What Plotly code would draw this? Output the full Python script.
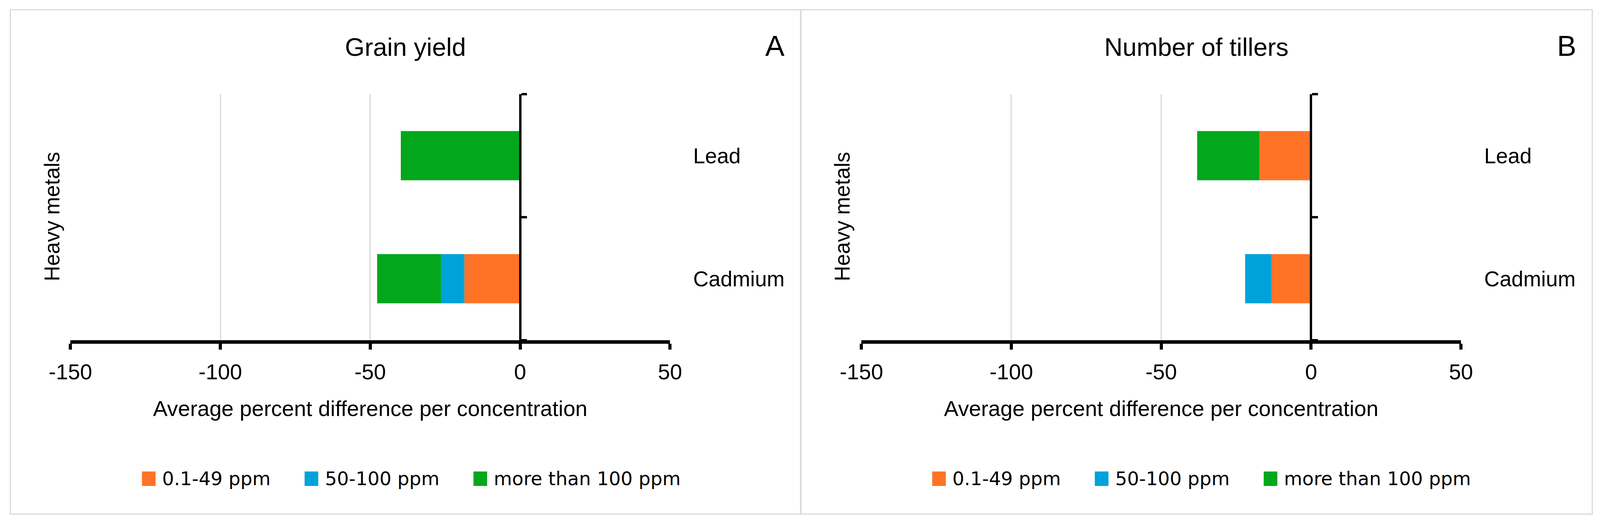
import plotly.graph_objects as go

# ---------------- data ----------------
categories = ["Cadmium", "Lead"]
series_names = ["0.1-49 ppm", "50-100 ppm", "more than 100 ppm"]
series_colors = ["#FF7327", "#00A2DA", "#03A71B"]

grain_low = [-18.6, None]
grain_mid = [-7.8, None]
grain_high = [-21.3, -39.8]

tillers_low = [-13.2, -17.2]
tillers_mid = [-8.8, None]
tillers_high = [None, -20.8]

x_tick_vals = [-150, -100, -50, 0, 50]
x_tick_text = ["-150", "-100", "-50", "0", "50"]
x_range = [-150, 50]
panel_titles = ["Grain yield", "Number of tillers"]
panel_letters = ["A", "B"]
x_title = "Average percent difference per concentration"
y_title = "Heavy metals"

panels_data = [
    [grain_low, grain_mid, grain_high],
    [tillers_low, tillers_mid, tillers_high],
]

# ---------------- layout geometry ----------------
# geometry measured in reference pixels; figure fills the page width (autosize)
REF_W, REF_H = 4339, 1344
VIEW_W = 4099            # observed page width in css px
KX = VIEW_W / REF_W      # horizontal css px per reference px
KY = 1.0                 # vertical css px per reference px
BODY = 8                 # default page body margin
FIG_W = VIEW_W - 2 * BODY
FIG_H = REF_H - 2 * BODY - 2
KF = 0.96                # font scale


def fx(px):
    return (px * KX - BODY) / FIG_W


def fy(py):
    return 1 - (py * KY - BODY) / FIG_H


panel_box = [(28, 2172), (2171, 4318)]
plot_x = [(191, 1817), (2336, 3962)]
plot_y = (241, 871)
box_y = (25, 1316)

AX_FONT = "Liberation Sans, Arial, sans-serif"
LEG_FONT = "DejaVu Sans, sans-serif"

fig = go.Figure()
shapes = []
annotations = []
layout = dict(
    height=FIG_H,
    autosize=True,
    margin=dict(l=0, r=0, t=0, b=0, pad=0, autoexpand=False),
    paper_bgcolor="white",
    plot_bgcolor="white",
    barmode="relative",
    bargap=0.6,
    showlegend=False,
)

for i in range(2):
    sfx = "" if i == 0 else str(i + 1)
    xa, ya = "x" + sfx, "y" + sfx
    for s in range(3):
        fig.add_trace(
            go.Bar(
                x=panels_data[i][s],
                y=categories,
                orientation="h",
                name=series_names[s],
                marker=dict(color=series_colors[s], line=dict(width=0)),
                xaxis=xa,
                yaxis=ya,
                showlegend=False,
                hoverinfo="x+y+name",
            )
        )

    d0, d1 = fx(plot_x[i][0]), fx(plot_x[i][1])
    zero_pos = d0 + (0 - x_range[0]) / (x_range[1] - x_range[0]) * (d1 - d0)

    layout["xaxis" + sfx] = dict(
        domain=[d0, d1],
        anchor=ya,
        range=x_range,
        tickvals=x_tick_vals,
        ticktext=x_tick_text,
        automargin=False,
        showgrid=True,
        gridcolor="#D9D9D9",
        gridwidth=3 * KX,
        zeroline=False,
        showline=True,
        linecolor="black",
        linewidth=9 * KY,
        ticks="outside",
        ticklen=15 * KY,
        tickwidth=8 * KX,
        tickcolor="black",
        ticklabelstandoff=9,
        tickfont=dict(family=AX_FONT, size=58 * KF, color="black"),
        title=dict(text=x_title, font=dict(family=AX_FONT, size=58 * KF, color="black"), standoff=48),
        fixedrange=True,
    )
    layout["yaxis" + sfx] = dict(
        domain=[fy(plot_y[1]), fy(plot_y[0])],
        anchor="free",
        position=zero_pos,
        side="right",
        type="category",
        categoryorder="array",
        categoryarray=categories,
        automargin=False,
        showline=True,
        linecolor="black",
        linewidth=6.5 * KX,
        ticks="outside",
        tickson="boundaries",
        ticklen=15 * KX,
        tickwidth=6 * KY,
        tickcolor="black",
        showgrid=False,
        zeroline=False,
        ticklabelstandoff=429,
        tickfont=dict(family=AX_FONT, size=57 * KF, color="black"),
        fixedrange=True,
    )

    # panel border
    shapes.append(
        dict(
            type="rect",
            xref="paper",
            yref="paper",
            x0=fx(panel_box[i][0]),
            x1=fx(panel_box[i][1]),
            y0=fy(box_y[1]),
            y1=fy(box_y[0]),
            line=dict(color="#D9D9D9", width=3),
            fillcolor="rgba(0,0,0,0)",
            layer="below",
        )
    )
    pc = (panel_box[i][0] + panel_box[i][1]) / 2
    # title
    annotations.append(
        dict(
            text=panel_titles[i],
            xref="paper",
            yref="paper",
            x=fx(pc),
            y=fy(120),
            xanchor="center",
            yanchor="middle",
            showarrow=False,
            font=dict(family=AX_FONT, size=67.5 * KF, color="black"),
        )
    )
    # panel letter
    annotations.append(
        dict(
            text=panel_letters[i],
            xref="paper",
            yref="paper",
            x=fx(panel_box[i][1] - 70),
            y=fy(117),
            xanchor="center",
            yanchor="middle",
            showarrow=False,
            font=dict(family=AX_FONT, size=77 * KF, color="black"),
        )
    )
    # y axis title
    annotations.append(
        dict(
            text=y_title,
            xref="paper",
            yref="paper",
            x=fx(panel_box[i][0] + 113),
            y=fy(555),
            xanchor="center",
            yanchor="middle",
            textangle=-90,
            showarrow=False,
            font=dict(family=AX_FONT, size=57 * KF, color="black"),
        )
    )
    # legend (square swatch + label per series)
    leg_offsets = [357, 798, 1256]
    for s in range(3):
        sx = panel_box[i][0] + leg_offsets[s]
        shapes.append(
            dict(
                type="rect",
                xref="paper",
                yref="paper",
                x0=fx(sx),
                x1=fx(sx + 37),
                y0=fy(1244),
                y1=fy(1207),
                line=dict(width=0),
                fillcolor=series_colors[s],
            )
        )
        annotations.append(
            dict(
                text=series_names[s],
                xref="paper",
                yref="paper",
                x=fx(sx + 53),
                y=fy(1225),
                xanchor="left",
                yanchor="middle",
                showarrow=False,
                font=dict(family=LEG_FONT, size=50 * KF, color="black"),
            )
        )

layout["shapes"] = shapes
layout["annotations"] = annotations
fig.update_layout(**layout)

fig.write_html("out.html")
